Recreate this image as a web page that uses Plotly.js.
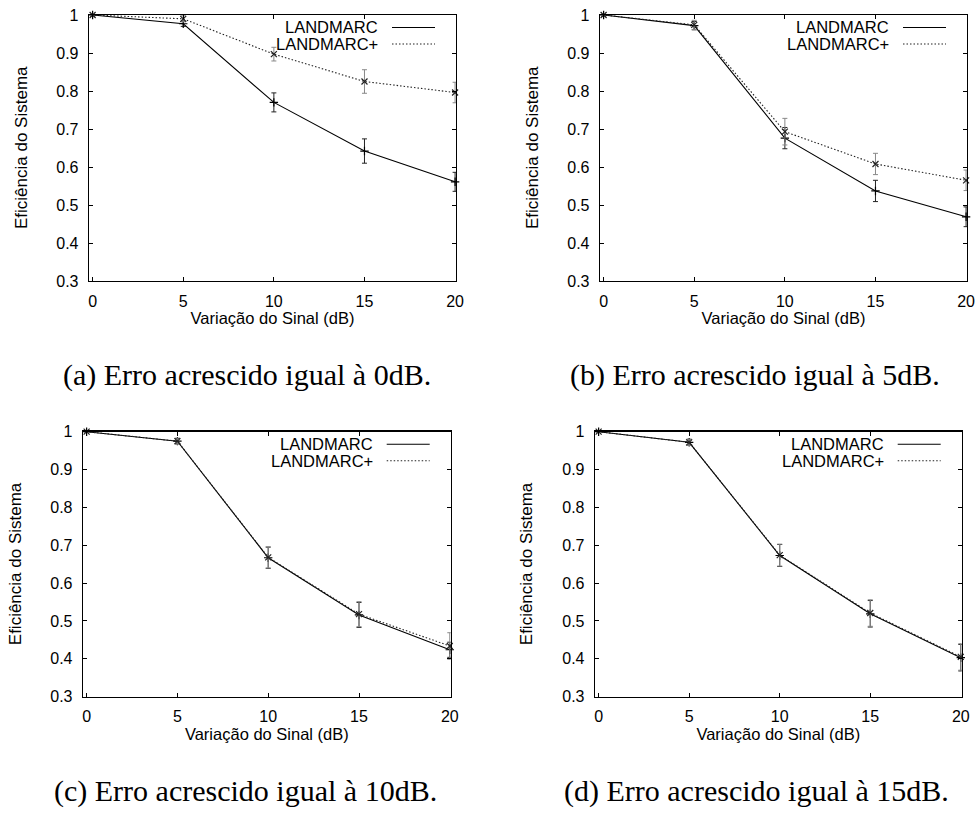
<!DOCTYPE html>
<html>
<head>
<meta charset="utf-8">
<script src="https://cdn.plot.ly/plotly-3.0.1.min.js"></script>
<style>html,body{margin:0;padding:0;background:#fff;}</style>
</head>
<body>
<div id="chart" style="width:977px;height:814px;"></div>
<script>
// ---- data ----
const signalVariation = [0, 5, 10, 15, 20];
const seriesNames = ["LANDMARC", "LANDMARC+"];
const captions = [
  "(a) Erro acrescido igual à 0dB.",
  "(b) Erro acrescido igual à 5dB.",
  "(c) Erro acrescido igual à 10dB.",
  "(d) Erro acrescido igual à 15dB."
];
const xTickVals = [0, 5, 10, 15, 20];
const xTickText = ["0", "5", "10", "15", "20"];
const yTickVals = [0.3, 0.4, 0.5, 0.6, 0.7, 0.8, 0.9, 1.0];
const yTickText = ["0.3", "0.4", "0.5", "0.6", "0.7", "0.8", "0.9", "1"];
const xTitle = "Variação do Sinal (dB)";
const yTitle = "Eficiência do Sistema";

// (a) 0dB
const a_landmarc     = [1.000, 0.977, 0.770, 0.642, 0.561];
const a_landmarcErr  = [0.003, 0.007, 0.025, 0.032, 0.025];
const a_landmarcP    = [1.000, 0.990, 0.897, 0.825, 0.796];
const a_landmarcPErr = [0.003, 0.008, 0.018, 0.031, 0.027];
// (b) 5dB
const b_landmarc     = [1.000, 0.972, 0.676, 0.537, 0.469];
const b_landmarcErr  = [0.003, 0.011, 0.028, 0.028, 0.026];
const b_landmarcP    = [1.000, 0.974, 0.693, 0.608, 0.565];
const b_landmarcPErr = [0.003, 0.012, 0.035, 0.028, 0.027];
// (c) 10dB
const c_landmarc     = [1.000, 0.975, 0.667, 0.516, 0.424];
const c_landmarcErr  = [0.002, 0.007, 0.028, 0.033, 0.020];
const c_landmarcP    = [1.000, 0.975, 0.668, 0.518, 0.434];
const c_landmarcPErr = [0.002, 0.008, 0.028, 0.033, 0.035];
// (d) 15dB
const d_landmarc     = [1.000, 0.972, 0.673, 0.519, 0.403];
const d_landmarcErr  = [0.002, 0.008, 0.029, 0.035, 0.035];
const d_landmarcP    = [1.000, 0.972, 0.674, 0.521, 0.405];
const d_landmarcPErr = [0.002, 0.008, 0.029, 0.035, 0.035];

// ---- layout geometry (pixels) ----
const W = 977, H = 814;
const panels = [
  {lm: a_landmarc, lmE: a_landmarcErr, lp: a_landmarcP, lpE: a_landmarcPErr, x0: 89,  x1: 456,   y0: 15,    y1: 281,   cap: captions[0], capX: 247, capY: 375, ytx: 21},
  {lm: b_landmarc, lmE: b_landmarcErr, lp: b_landmarcP, lpE: b_landmarcPErr, x0: 600, x1: 967,   y0: 15,    y1: 281,   cap: captions[1], capX: 755, capY: 375, ytx: 532},
  {lm: c_landmarc, lmE: c_landmarcErr, lp: c_landmarcP, lpE: c_landmarcPErr, x0: 83,  x1: 450.7, y0: 431.7, y1: 696.7, cap: captions[2], capX: 246, capY: 791, ytx: 15},
  {lm: d_landmarc, lmE: d_landmarcErr, lp: d_landmarcP, lpE: d_landmarcPErr, x0: 595, x1: 961.7, y0: 431.7, y1: 696.7, cap: captions[3], capX: 756, capY: 791, ytx: 526}
];

const font = "Liberation Sans, Arial, sans-serif";
const traces = [];
const layout = {
  width: W, height: H,
  margin: {l: 0, r: 0, t: 0, b: 0},
  paper_bgcolor: "#fff", plot_bgcolor: "#fff",
  showlegend: false,
  font: {family: font, color: "#000", size: 16},
  annotations: [], shapes: []
};

panels.forEach((p, i) => {
  const n = i === 0 ? "" : String(i + 1);
  const xa = "x" + n, ya = "y" + n;
  traces.push({
    x: signalVariation, y: p.lm, xaxis: xa, yaxis: ya, name: seriesNames[0],
    type: "scatter", mode: "lines+markers", cliponaxis: false,
    line: {color: "#000", width: 1.1},
    marker: {symbol: "cross-thin", size: 6, line: {width: 1.2, color: "#000"}},
    error_y: {type: "data", array: p.lmE, visible: true, color: "#222", thickness: 1, width: 2.5}
  });
  traces.push({
    x: signalVariation, y: p.lp, xaxis: xa, yaxis: ya, name: seriesNames[1],
    type: "scatter", mode: "lines+markers", cliponaxis: false,
    line: {color: "#222", width: 1.1, dash: "1.5px,2px"},
    marker: {symbol: "x-thin", size: 6, line: {width: 1.2, color: "#222"}},
    error_y: {type: "data", array: p.lpE, visible: true, color: "#888", thickness: 1, width: 2.5}
  });
  const common = {
    showline: true, mirror: "allticks", linecolor: "#000", linewidth: 1.3,
    ticks: "inside", ticklen: 4, tickwidth: 1, tickcolor: "#000",
    showgrid: false, zeroline: false, fixedrange: true,
    tickfont: {family: font, size: 16, color: "#000"}
  };
  layout["xaxis" + n] = Object.assign({}, common, {
    domain: [p.x0 / W, p.x1 / W], anchor: ya, range: [-0.2, 20.05],
    tickmode: "array", tickvals: xTickVals, ticktext: xTickText,
    ticklabelstandoff: 5,
    title: {text: xTitle, font: {family: font, size: 16.5, color: "#000"}, standoff: 3}
  });
  layout["yaxis" + n] = Object.assign({}, common, {
    domain: [1 - p.y1 / H, 1 - p.y0 / H], anchor: xa, range: [0.3, 1.0],
    tickmode: "array", tickvals: yTickVals, ticktext: yTickText,
    ticklabelstandoff: 6
  });
  // y title as rotated annotation
  layout.annotations.push({
    text: yTitle, xref: "paper", yref: "paper",
    x: p.ytx / W, y: 1 - ((p.y0 + p.y1) / 2) / H, textangle: -90,
    showarrow: false, xanchor: "center", yanchor: "middle",
    font: {family: font, size: 17, color: "#000"}
  });
  // caption
  layout.annotations.push({
    text: p.cap, xref: "paper", yref: "paper",
    x: p.capX / W, y: 1 - p.capY / H, showarrow: false,
    xanchor: "center", yanchor: "middle",
    font: {family: "Liberation Serif, Times New Roman, serif", size: 30, color: "#000"}
  });
  // gnuplot-style key: text then sample on the right
  const textRight = p.x1 - 76, sx0 = p.x1 - 64, sx1 = p.x1 - 21;
  const ky = [p.y0 + 12.5, p.y0 + 29];
  seriesNames.forEach((nm, k) => {
    layout.annotations.push({
      text: nm, xref: "paper", yref: "paper",
      x: textRight / W, y: 1 - ky[k] / H, showarrow: false,
      xanchor: "right", yanchor: "middle",
      font: {family: font, size: 16.5, color: "#000"}
    });
    layout.shapes.push({
      type: "line", xref: "paper", yref: "paper",
      x0: sx0 / W, x1: sx1 / W, y0: 1 - ky[k] / H, y1: 1 - ky[k] / H,
      line: k === 0 ? {color: "#000", width: 1.1} : {color: "#222", width: 1.1, dash: "1.5px,2px"}
    });
  });
});

Plotly.newPlot("chart", traces, layout, {displayModeBar: false, staticPlot: true});
</script>
</body>
</html>
